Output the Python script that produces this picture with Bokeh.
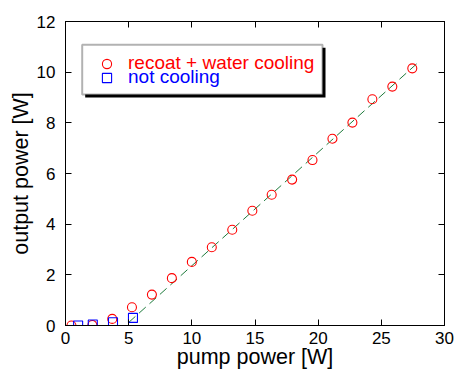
from bokeh.plotting import figure
from bokeh.models import Range1d, LinearAxis, Legend, LegendItem, BoxAnnotation, FixedTicker
from bokeh.embed import file_html
from bokeh.resources import INLINE

# data
pump_cool = [0.47, 2.13, 3.70, 5.26, 6.84, 8.42, 10.0, 11.58, 13.2, 14.79, 16.32,
             17.94, 19.55, 21.13, 22.71, 24.29, 25.87, 27.45]
out_cool = [0.0, 0.02, 0.26, 0.72, 1.22, 1.87, 2.51, 3.09, 3.78, 4.53, 5.16,
            5.76, 6.53, 7.37, 8.01, 8.93, 9.43, 10.15]
pump_nocool = [1.0, 2.16, 3.76, 5.34]
out_nocool = [0.0, 0.04, 0.13, 0.30]
fit_x = [5.0, 27.8]
fit_y = [0.12, 10.33]
x_ticks = [0, 5, 10, 15, 20, 25, 30]
y_ticks = [0, 2, 4, 6, 8, 10, 12]

FONT = "Liberation Sans"

p = figure(frame_width=379, frame_height=304,
           min_border_left=65, min_border_right=14, min_border_top=21, min_border_bottom=44,
           x_range=Range1d(0, 30), y_range=Range1d(0, 12),
           output_backend="svg", toolbar_location=None)
p.grid.visible = False
p.outline_line_color = "black"
p.outline_line_width = 1
p.background_fill_color = "white"
p.border_fill_color = "white"

def style_axis(ax, ticks, labels=True):
    ax.ticker = FixedTicker(ticks=ticks)
    ax.major_tick_in = 6
    ax.major_tick_out = 0
    ax.minor_tick_in = 0
    ax.minor_tick_out = 0
    ax.axis_line_color = "black"
    ax.major_tick_line_color = "black"
    ax.major_label_text_font = FONT
    ax.major_label_text_color = "black"
    ax.major_label_text_font_size = "17px"
    ax.axis_label_text_font = FONT
    ax.axis_label_text_font_style = "normal"
    ax.axis_label_text_font_size = "21.5px"
    ax.axis_label_text_color = "black"
    if not labels:
        ax.major_label_overrides = {t: "" for t in ticks}
        ax.major_label_standoff = 0

style_axis(p.xaxis[0], x_ticks)
style_axis(p.yaxis[0], y_ticks)
p.xaxis[0].axis_label = "pump power [W]"
p.yaxis[0].axis_label = "output power [W]"
p.xaxis[0].major_label_standoff = 6
p.xaxis[0].axis_label_standoff = -2
p.yaxis[0].major_label_standoff = 10
p.yaxis[0].axis_label_standoff = 1

top_ax = LinearAxis()
style_axis(top_ax, x_ticks, labels=False)
p.add_layout(top_ax, "above")
right_ax = LinearAxis()
style_axis(right_ax, y_ticks, labels=False)
p.add_layout(right_ax, "right")

p.line(fit_x, fit_y, line_color="#1e7b3c", line_width=1, line_dash="9 5")
r1 = p.scatter(pump_cool, out_cool, marker="circle", size=9, fill_color=None,
               line_color="#ff0000", line_width=1.1)
r2 = p.scatter(pump_nocool, out_nocool, marker="square", size=9, fill_color=None,
               line_color="#0000ff", line_width=1.1)

# legend frame with drop shadow
shadow = BoxAnnotation(left=19.7, right=260, top=277.7, bottom=228,
                       left_units="screen", right_units="screen",
                       top_units="screen", bottom_units="screen",
                       fill_color="black", fill_alpha=1, line_color=None)
box = BoxAnnotation(left=16.7, right=257, top=280.7, bottom=231,
                    left_units="screen", right_units="screen",
                    top_units="screen", bottom_units="screen",
                    fill_color="white", fill_alpha=1, line_color="black", line_width=2)
p.add_layout(shadow)
p.add_layout(box)

def make_legend(label, rend, color, loc):
    lg = Legend(items=[LegendItem(label=label, renderers=[rend])], location=loc,
                padding=0, margin=0, border_line_color=None, background_fill_alpha=0,
                glyph_width=23, glyph_height=23, label_height=23, label_standoff=10,
                label_text_font=FONT, label_text_font_size="19px", label_text_color=color)
    return lg

p.add_layout(make_legend("recoat + water cooling", r1, "#ff0000", (30, 250.5)))
p.add_layout(make_legend("not cooling", r2, "#0000ff", (30, 236.5)))

open("out.html", "w").write(file_html(p, INLINE))
